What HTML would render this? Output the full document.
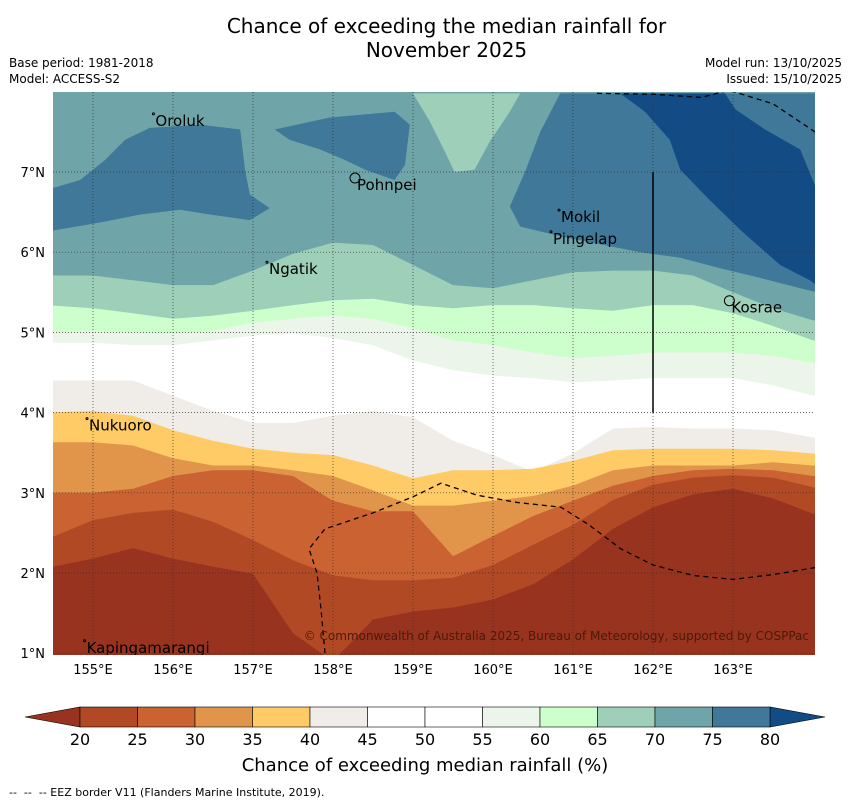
<!DOCTYPE html>
<html><head><meta charset="utf-8">
<style>
body{margin:0;background:#fff;font-family:"Liberation Sans","DejaVu Sans",sans-serif;}
#wrap{position:relative;width:850px;height:804px;overflow:hidden;}
.t{position:absolute;font-family:"DejaVu Sans","Liberation Sans",sans-serif;}
</style></head><body>
<div id="wrap">
<div class="t" style="left:0;width:893px;top:14px;text-align:center;font-size:20px;line-height:24px;color:#000">Chance of exceeding the median rainfall for<br>November 2025</div>
<div class="t" style="left:9px;top:55px;font-size:12px;line-height:16px">Base period: 1981-2018<br>Model: ACCESS-S2</div>
<div class="t" style="right:8px;top:55px;font-size:12px;line-height:16px;text-align:right">Model run: 13/10/2025<br>Issued: 15/10/2025</div>
<svg id="svg" width="850" height="804" style="position:absolute;left:0;top:0"></svg>
<div class="t" style="left:0;width:850px;top:755px;text-align:center;font-size:18px">Chance of exceeding median rainfall (%)</div>
<div class="t" style="left:9px;top:786px;font-size:11px">-- &nbsp;-- &nbsp;-- EEZ border V11 (Flanders Marine Institute, 2019).</div>
</div>
<script>
// ---- data ----
const lons=[154.5,155,155.5,156,156.5,157,157.5,158,158.5,159,159.5,160,160.5,161,161.5,162,162.5,163,163.5,164];
const b20=[2.06,2.18,2.31,2.18,2.08,1.99,1.25,0.9,1.42,1.52,1.57,1.67,1.86,2.17,2.55,2.82,2.98,3.05,2.93,2.74];
const b25=[2.41,2.66,2.75,2.79,2.64,2.41,2.16,1.97,1.91,1.91,1.94,2.10,2.35,2.60,2.91,3.10,3.19,3.22,3.19,3.07];
const b30=[3.00,3.00,3.05,3.21,3.28,3.28,3.21,2.90,2.77,2.77,2.21,2.46,2.71,2.90,3.09,3.21,3.28,3.30,3.28,3.21];
const b35=[3.63,3.63,3.59,3.43,3.34,3.34,3.28,3.21,3.03,2.84,2.84,2.90,2.96,3.09,3.28,3.34,3.34,3.34,3.38,3.34];
const b40=[4.00,4.02,3.96,3.78,3.65,3.55,3.50,3.47,3.34,3.18,3.28,3.28,3.30,3.40,3.53,3.55,3.55,3.55,3.53,3.49];
const b45=[4.40,4.40,4.40,4.21,4.02,3.87,3.87,3.96,4.02,3.94,3.65,3.47,3.26,3.49,3.80,3.82,3.80,3.80,3.78,3.69];
const b55=[4.87,4.87,4.84,4.84,4.90,4.96,4.99,4.93,4.84,4.65,4.53,4.46,4.43,4.38,4.40,4.43,4.43,4.43,4.34,4.21];
const b60=[5.00,5.02,5.00,4.99,5.02,5.12,5.17,5.21,5.17,5.05,4.90,4.84,4.75,4.68,4.71,4.75,4.75,4.75,4.71,4.62];
const b65=[5.34,5.30,5.24,5.17,5.21,5.27,5.34,5.40,5.42,5.34,5.30,5.34,5.34,5.30,5.27,5.34,5.34,5.24,5.08,4.90];
const b70=[5.71,5.71,5.65,5.59,5.59,5.77,5.98,6.12,6.09,5.84,5.59,5.55,5.65,5.75,5.77,5.77,5.71,5.50,5.30,5.15];
const blob75NW=[[154.5,6.80],[154.84,6.90],[155.15,7.15],[155.4,7.40],[155.71,7.55],[156.34,7.59],[156.84,7.53],[156.9,7.03],[156.96,6.72],[157.21,6.55],[156.96,6.40],[156.46,6.47],[156.09,6.53],[155.59,6.47],[155.09,6.37],[154.5,6.27]];
const blob75C=[[157.27,7.53],[157.96,7.68],[158.77,7.75],[158.96,7.59],[158.9,7.09],[158.77,6.90],[158.4,7.03],[158.15,7.15],[157.84,7.28],[157.46,7.40]];
const east75=[[160.84,7.98],[160.59,7.50],[160.4,7.00],[160.21,6.57],[160.34,6.32],[160.84,6.20],[161.34,6.10],[161.84,6.00],[162.34,5.93],[162.84,5.80],[163.34,5.68],[163.84,5.55],[164.1,5.49],[164.1,7.98]];
const east80=[[161.59,7.98],[161.9,7.75],[162.21,7.40],[162.34,7.03],[162.71,6.65],[163.09,6.28],[163.59,5.84],[163.96,5.65],[164.1,5.55],[164.1,6.65],[163.84,7.28],[163.4,7.53],[163.03,7.78],[162.9,7.98]];
const tongue65=[[159.0,7.98],[159.21,7.63],[159.4,7.25],[159.52,7.00],[159.77,7.03],[159.96,7.38],[160.21,7.75],[160.34,7.98]];
const tickLons=[155,156,157,158,159,160,161,162,163];
const tickLats=[1,2,3,4,5,6,7];
const cbEdges=[20,25,30,35,40,45,50,55,60,65,70,75,80];
const cbColors=['#b24925','#cb6232','#e0954a','#fecb66','#f0ece7','#ffffff','#ffffff','#ebf5ea','#ccffcc','#9dcfb9','#6fa5a8','#3f7899'];
const places=[["Oroluk",155.78,7.65],["Pohnpei",158.3,6.85],["Mokil",160.85,6.45],["Pingelap",160.75,6.18],["Ngatik",157.2,5.8],["Kosrae",162.98,5.32],["Nukuoro",154.95,3.85],["Kapingamarangi",154.92,1.08]];
const eez1=[[157.9,1.0],[157.85,1.55],[157.8,2.0],[157.7,2.3],[157.9,2.55],[158.5,2.75],[159.0,2.95],[159.35,3.12],[159.8,2.97],[160.3,2.88],[160.85,2.82],[161.2,2.6],[161.6,2.3],[162.0,2.1],[162.5,1.97],[163.0,1.92],[163.5,1.98],[164.1,2.08]];
const eez2=[[161.3,7.98],[162.0,7.97],[162.6,7.93],[162.95,8.02],[163.5,7.85],[164.1,7.45]];
// ---- axes ----
const X0=93,PX=80,Y0=172,PY=80.2;
const xs=l=>X0+(l-155)*PX, ys=a=>Y0+(7-a)*PY;
const L=53,R=815,T=92,B=655;
const NS='http://www.w3.org/2000/svg';
const svg=document.getElementById('svg');
function mk(tag,attrs,parent){const e=document.createElementNS(NS,tag);for(const k in attrs)e.setAttribute(k,attrs[k]);(parent||svg).appendChild(e);return e;}
const defs=mk('defs',{});const cp=mk('clipPath',{id:'mc'},defs);mk('rect',{x:L,y:T,width:R-L,height:B-T},cp);
const g=mk('g',{'clip-path':'url(#mc)'});


const bg=mk('rect',{x:L,y:T,width:R-L,height:B-T,fill:'#6fa5a8'},g);


function poly(pts,fill,name){const p=mk('polygon',{points:pts.map(p=>xs(p[0]).toFixed(1)+','+ys(p[1]).toFixed(1)).join(' '),fill:fill},g);

return p;}
poly(blob75NW,'#3f7899','band-75-80-northwest');
poly(blob75C,'#3f7899','band-75-80-central');
poly(east75,'#3f7899','band-75-80-east');
poly(east80,'#134b85','band-above-80');
poly(tongue65,'#9dcfb9','band-65-70-north');
const bands=[[b70,'#9dcfb9','band-65-70'],[b65,'#ccffcc','band-60-65'],[b60,'#ebf5ea','band-55-60'],[b55,'#ffffff','band-45-55'],[b45,'#f0ece7','band-40-45'],[b40,'#fecb66','band-35-40'],[b35,'#e0954a','band-30-35'],[b30,'#cb6232','band-25-30'],[b25,'#b24925','band-20-25'],[b20,'#98331f','band-below-20']];
bands.forEach(([arr,col,name])=>{const pts=lons.map((l,i)=>[l,arr[i]]);
  pts[0]=[154.4,pts[0][1]];
  pts.push([164.1,arr[arr.length-1]],[164.1,0.9],[154.4,0.9]);
  poly(pts,col,name);
});
tickLons.forEach(l=>{const e=mk('line',{x1:xs(l),x2:xs(l),y1:T,y2:B,stroke:'#333','stroke-width':0.7,'stroke-dasharray':'1,2'},g);

});
tickLats.forEach(a=>{const e=mk('line',{x1:L,x2:R,y1:ys(a),y2:ys(a),stroke:'#333','stroke-width':0.7,'stroke-dasharray':'1,2'},g);

});
[eez1,eez2].forEach(arr=>{const e=mk('polyline',{points:arr.map(p=>xs(p[0])+','+ys(p[1])).join(' '),fill:'none',stroke:'#000','stroke-width':1.3,'stroke-dasharray':'5,4'},g);

});
const vl=mk('line',{x1:xs(162),x2:xs(162),y1:ys(7),y2:ys(4),stroke:'#000','stroke-width':1.5},g);


places.forEach(([n,lo,la])=>{
  const d=mk('circle',{cx:xs(lo)-2,cy:ys(la)-6,r:n==='Pohnpei'||n==='Kosrae'?5:1,fill:'none',stroke:'#000','stroke-width':1},g);
  
  
  const t=mk('text',{x:xs(lo),y:ys(la)+6,'font-size':15,'font-family':'DejaVu Sans, Liberation Sans, sans-serif',fill:'#000'},g);t.textContent=n;
  
  
});
const cr=mk('text',{x:809,y:640,'font-size':12,'text-anchor':'end','font-family':'DejaVu Sans, Liberation Sans, sans-serif',fill:'#4a1a0a'},g);cr.textContent='© Commonwealth of Australia 2025, Bureau of Meteorology, supported by COSPPac';


tickLons.forEach(l=>{const t=mk('text',{x:xs(l),y:674,'font-size':13,'text-anchor':'middle','font-family':'DejaVu Sans, Liberation Sans, sans-serif'});t.textContent=l+'°E';

});
tickLats.forEach(a=>{const t=mk('text',{x:45,y:ys(a)+5,'font-size':13,'text-anchor':'end','font-family':'DejaVu Sans, Liberation Sans, sans-serif'});t.textContent=a+'°N';

});
const cx0=80,cx1=770,cy0=707,cy1=727;const cw=(cx1-cx0)/(cbEdges.length-1);
const lt=mk('polygon',{points:`${cx0},${cy0} ${cx0},${cy1} 25,717`,fill:'#98331f',stroke:'#000','stroke-width':0.6});


const rt=mk('polygon',{points:`${cx1},${cy0} ${cx1},${cy1} 825,717`,fill:'#134b85',stroke:'#000','stroke-width':0.6});


cbColors.forEach((c,i)=>{const r=mk('rect',{x:cx0+i*cw,y:cy0,width:cw,height:cy1-cy0,fill:c,stroke:'#000','stroke-width':0.6});

});
cbEdges.forEach((v,i)=>{const t=mk('text',{x:cx0+i*cw,y:745,'font-size':16,'text-anchor':'middle','font-family':'DejaVu Sans, Liberation Sans, sans-serif'});t.textContent=v;

});
</script>
</body></html>
